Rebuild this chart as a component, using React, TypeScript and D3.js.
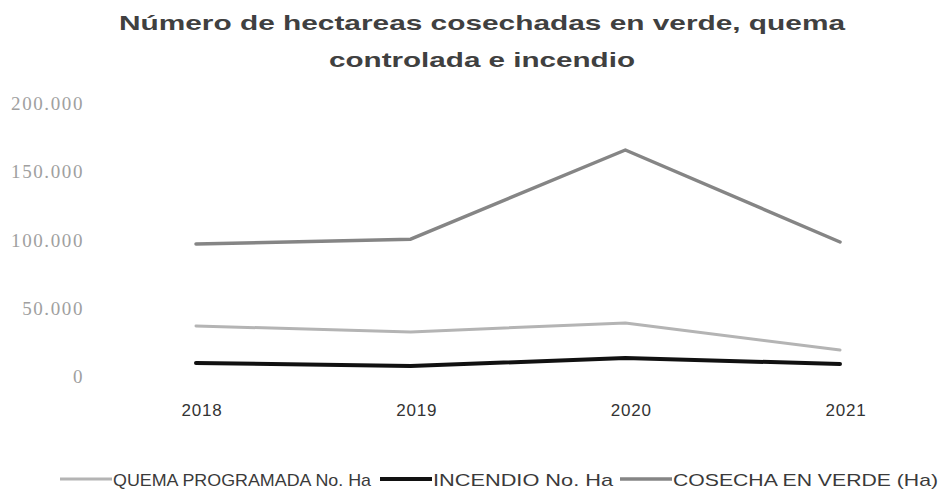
import React, { useEffect, useRef } from 'react';
import * as d3 from 'd3';

const years = ['2018', '2019', '2020', '2021'];
const quema = [37400, 33000, 39600, 19800];
const incendio = [10300, 8000, 13900, 9500];
const cosecha = [97400, 101000, 166300, 98900];
const yTicks = [0, 50000, 100000, 150000, 200000];

const seriesList = [
  { name: 'QUEMA PROGRAMADA No. Ha', values: quema, color: '#b4b4b4', width: 3, textLen: 258 },
  { name: 'INCENDIO No. Ha', values: incendio, color: '#111111', width: 4, textLen: 180 },
  { name: 'COSECHA EN VERDE (Ha)', values: cosecha, color: '#858585', width: 3.5, textLen: 265 },
];

const App = () => {
  const svgRef = useRef<SVGSVGElement>(null);

  useEffect(() => {
    const width = 943;
    const height = 493;
    const svg = d3.select(svgRef.current).attr('width', width).attr('height', height);
    svg.selectAll('*').remove();

    const x = d3.scalePoint<string>().domain(years).range([196, 840]);
    const y = d3.scaleLinear().domain([0, 200000]).range([377, 104]);

    // title, stretched like the scanned original
    const titleLines = [
      { text: 'Número de hectareas cosechadas en verde, quema', y: 30, len: 726 },
      { text: 'controlada e incendio', y: 67, len: 306 },
    ];
    svg.append('g')
      .selectAll('text')
      .data(titleLines)
      .enter()
      .append('text')
      .attr('x', (d) => 482 - d.len / 2)
      .attr('y', (d) => d.y)
      .attr('textLength', (d) => d.len)
      .attr('lengthAdjust', 'spacingAndGlyphs')
      .attr('font-family', 'Liberation Sans, Arial, sans-serif')
      .attr('font-weight', 'bold')
      .attr('font-size', 21)
      .attr('fill', '#404040')
      .text((d) => d.text);

    // y axis labels
    svg.append('g')
      .selectAll('text')
      .data(yTicks)
      .enter()
      .append('text')
      .attr('x', 84)
      .attr('y', (d) => y(d) + 6)
      .attr('text-anchor', 'end')
      .attr('font-family', 'Liberation Serif, serif')
      .attr('font-size', 19)
      .attr('letter-spacing', 1.6)
      .attr('fill', '#a0a0a0')
      .text((d) => d3.format(',')(d).replace(/,/g, '.'));

    // x axis labels
    svg.append('g')
      .selectAll('text')
      .data(years)
      .enter()
      .append('text')
      .attr('x', (d) => x(d)! + 6)
      .attr('y', 416)
      .attr('text-anchor', 'middle')
      .attr('font-family', 'Liberation Sans, sans-serif')
      .attr('font-size', 17)
      .attr('letter-spacing', 0.8)
      .attr('fill', '#333')
      .text((d) => d);

    const line = d3.line<number>()
      .x((d, i) => x(years[i])!)
      .y((d) => y(d));

    seriesList.forEach((s) => {
      svg.append('path')
        .datum(s.values)
        .attr('d', line)
        .attr('fill', 'none')
        .attr('stroke', s.color)
        .attr('stroke-width', s.width)
        .attr('stroke-linejoin', 'round')
        .attr('stroke-linecap', 'round');
    });

    // legend
    const legendX = [60, 380, 620];
    const legend = svg.append('g');
    seriesList.forEach((s, i) => {
      legend.append('line')
        .attr('x1', legendX[i])
        .attr('x2', legendX[i] + 52)
        .attr('y1', 479)
        .attr('y2', 479)
        .attr('stroke', s.color)
        .attr('stroke-width', s.width);
      legend.append('text')
        .attr('x', legendX[i] + 53)
        .attr('y', 486)
        .attr('font-family', 'Liberation Sans, sans-serif')
        .attr('font-size', 17)
        .attr('textLength', s.textLen)
        .attr('lengthAdjust', 'spacingAndGlyphs')
        .attr('fill', '#3a3a3a')
        .text(s.name);
    });
  }, []);

  return <svg ref={svgRef} style={{ position: 'absolute', left: 0, top: 0 }} />;
};

export default App;
